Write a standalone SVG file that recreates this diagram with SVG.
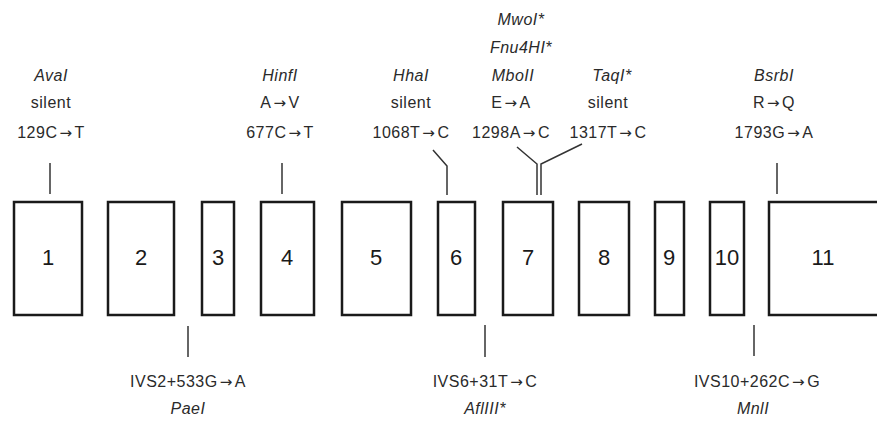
<svg xmlns="http://www.w3.org/2000/svg" width="877" height="421" viewBox="0 0 877 421">
<style>
.t{font-family:"Liberation Sans",Arial,sans-serif;font-size:16px;fill:#2a2a2a;text-anchor:middle;letter-spacing:0.5px}
.i{font-style:italic}
.a{font-family:"DejaVu Sans",sans-serif;font-size:15px}
.n{font-family:"Liberation Sans",Arial,sans-serif;font-size:22px;fill:#1a1a1a;text-anchor:middle}
.box{fill:#fff;stroke:#1a1a1a;stroke-width:2.5}
.ln{fill:none;stroke:#333;stroke-width:1.5}
</style>
<rect width="877" height="421" fill="#fff"/>
<g id="exon1"><rect class="box" x="14" y="202" width="68" height="113"/><text class="n" x="48" y="265">1</text></g>
<g id="exon2"><rect class="box" x="108" y="202" width="66" height="113"/><text class="n" x="141" y="265">2</text></g>
<g id="exon3"><rect class="box" x="202" y="202" width="32" height="113"/><text class="n" x="218" y="265">3</text></g>
<g id="exon4"><rect class="box" x="261" y="202" width="53" height="113"/><text class="n" x="287" y="265">4</text></g>
<g id="exon5"><rect class="box" x="342" y="202" width="69" height="113"/><text class="n" x="376" y="265">5</text></g>
<g id="exon6"><rect class="box" x="438" y="202" width="37" height="113"/><text class="n" x="456" y="265">6</text></g>
<g id="exon7"><rect class="box" x="503" y="202" width="50" height="113"/><text class="n" x="528" y="265">7</text></g>
<g id="exon8"><rect class="box" x="579" y="202" width="50" height="113"/><text class="n" x="604" y="265">8</text></g>
<g id="exon9"><rect class="box" x="655" y="202" width="29" height="113"/><text class="n" x="669" y="265">9</text></g>
<g id="exon10"><rect class="box" x="710" y="202" width="34" height="113"/><text class="n" x="727" y="265">10</text></g>
<g id="exon11"><rect class="box" x="769" y="202" width="112" height="113"/><text class="n" x="823" y="265">11</text></g>

<g id="connectors">
<line class="ln" x1="50" y1="163" x2="50" y2="194"/>
<line class="ln" x1="282" y1="163" x2="282" y2="194"/>
<polyline class="ln" points="433,150 447,166 447,195"/>
<polyline class="ln" points="517,147 537,164 537,195"/>
<polyline class="ln" points="582,144 541,164 541,195"/>
<line class="ln" x1="777" y1="163" x2="777" y2="194"/>
<line class="ln" x1="188" y1="326" x2="188" y2="357"/>
<line class="ln" x1="485" y1="325" x2="485" y2="357"/>
<line class="ln" x1="754" y1="325" x2="754" y2="356"/>
</g>

<g id="label-129">
<text class="t i" x="51" y="81">AvaI</text>
<text class="t" x="51" y="108">silent</text>
<text class="t" x="51" y="138">129C<tspan class="a" dx="2">→</tspan><tspan dx="2">T</tspan></text>
</g>
<g id="label-677">
<text class="t i" x="280" y="81">HinfI</text>
<text class="t" x="280" y="108">A<tspan class="a" dx="2">→</tspan><tspan dx="2">V</tspan></text>
<text class="t" x="280" y="138">677C<tspan class="a" dx="2">→</tspan><tspan dx="2">T</tspan></text>
</g>
<g id="label-1068">
<text class="t i" x="411" y="81">HhaI</text>
<text class="t" x="411" y="108">silent</text>
<text class="t" x="411" y="138">1068T<tspan class="a" dx="2">→</tspan><tspan dx="2">C</tspan></text>
</g>
<g id="label-1298">
<text class="t i" x="521" y="25">MwoI*</text>
<text class="t i" x="521" y="53">Fnu4HI*</text>
<text class="t i" x="513" y="81">MboII</text>
<text class="t" x="511" y="108">E<tspan class="a" dx="2">→</tspan><tspan dx="2">A</tspan></text>
<text class="t" x="511" y="138">1298A<tspan class="a" dx="2">→</tspan><tspan dx="2">C</tspan></text>
</g>
<g id="label-1317">
<text class="t i" x="612" y="81">TaqI*</text>
<text class="t" x="608" y="108">silent</text>
<text class="t" x="608" y="138">1317T<tspan class="a" dx="2">→</tspan><tspan dx="2">C</tspan></text>
</g>
<g id="label-1793">
<text class="t i" x="774" y="81">BsrbI</text>
<text class="t" x="774" y="108">R<tspan class="a" dx="2">→</tspan><tspan dx="2">Q</tspan></text>
<text class="t" x="774" y="138">1793G<tspan class="a" dx="2">→</tspan><tspan dx="2">A</tspan></text>
</g>
<g id="label-ivs2">
<text class="t" x="188" y="387">IVS2+533G<tspan class="a" dx="2">→</tspan><tspan dx="2">A</tspan></text>
<text class="t i" x="188" y="414">PaeI</text>
</g>
<g id="label-ivs6">
<text class="t" x="485" y="387">IVS6+31T<tspan class="a" dx="2">→</tspan><tspan dx="2">C</tspan></text>
<text class="t i" x="485" y="414">AflIII*</text>
</g>
<g id="label-ivs10">
<text class="t" x="757" y="387">IVS10+262C<tspan class="a" dx="2">→</tspan><tspan dx="2">G</tspan></text>
<text class="t i" x="753" y="414">MnlI</text>
</g>
</svg>
